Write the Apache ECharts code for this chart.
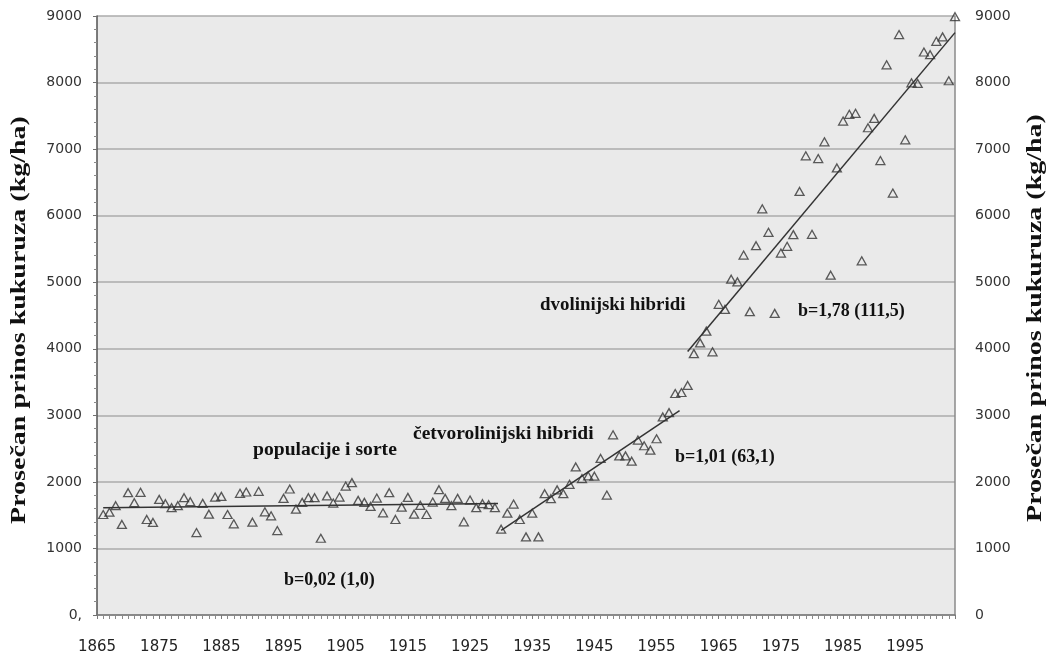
<!DOCTYPE html>
<html>
<head>
<meta charset="utf-8">
<title>Prosečan prinos kukuruza</title>
<script src="https://cdn.jsdelivr.net/npm/echarts@6/dist/echarts.min.js"></script>
<style>
  html, body { margin: 0; padding: 0; background: #fff; }
  #chart { width: 1049px; height: 662px; }
</style>
</head>
<body>
<div id="chart"></div>
<script>
// prosečan prinos kukuruza (kg/ha) po godinama, 1866 - 2003
const firstYear = 1866
const yields = [
  1510, 1545, 1642, 1360, 1838, 1687, 1843, 1435, 1390, 1737,
  1672, 1612, 1642, 1763, 1702, 1239, 1677, 1515, 1772, 1782,
  1510, 1370, 1828, 1848, 1395, 1858, 1551, 1491, 1269, 1752,
  1893, 1591, 1692, 1763, 1763, 1153, 1790, 1682, 1772, 1938,
  1989, 1722, 1692, 1631, 1757, 1536, 1838, 1435, 1621, 1767,
  1515, 1647, 1510, 1697, 1883, 1752, 1642, 1752, 1400, 1727,
  1612, 1672, 1657, 1612, 1289, 1530, 1667, 1435, 1174, 1530,
  1174, 1823, 1748, 1880, 1823, 1964, 2225, 2050, 2089, 2085,
  2352, 1802, 2708, 2391, 2391, 2311, 2628, 2543, 2477, 2648,
  2976, 3041, 3328, 3343, 3449, 3927, 4089, 4265, 3955, 4668,
  4592, 5045, 5005, 5408, 4557, 5549, 6103, 5750, 4532, 5438,
  5539, 5715, 6364, 6899, 5720, 6858, 7110, 5106, 6717, 7422,
  7523, 7538, 5322, 7321, 7462, 6828, 8267, 6340, 8721, 7140,
  7996, 7986, 8459, 8419, 8620, 8686, 8027, 8990
]
const years = yields.map((v, i) => firstYear + i)

// linije trenda [godina, prinos]
const trendPopulacije = [[1866, 1612], [1929.5, 1675]]
const trendCetvoro = [[1930, 1270], [1958.7, 3070]]
const trendDvo = [[1960, 3960], [2003, 8750]]

// natpisi
const axisTitle = 'Prosečan prinos kukuruza (kg/ha)'
const notes = [
  'populacije i sorte', 'b=0,02 (1,0)',
  'četvorolinijski hibridi', 'b=1,01 (63,1)',
  'dvolinijski hibridi', 'b=1,78 (111,5)'
]

const serif = '"Liberation Serif", "Times New Roman", serif'
const sans = '"DejaVu Sans", Verdana, sans-serif'

const noteText = (text, x, y, stretch) => ({
  type: 'text', x: x, y: y, z: 10, scaleX: stretch || 1,
  style: { text: text, fontFamily: serif, fontWeight: 'bold', fontSize: 18,
    fill: '#111', align: 'left', verticalAlign: 'middle' }
})

const titleText = (x, y) => ({
  type: 'text', x: x, y: y, rotation: Math.PI / 2, scaleX: 1.4,
  style: { text: axisTitle, fontFamily: serif, fontWeight: 'bold', fontSize: 20,
    fill: '#111', align: 'center', verticalAlign: 'middle' }
})

// bez separatora hiljada
const plain = v => String(v)

const yAxisBase = {
  type: 'value', min: 0, max: 9000, interval: 1000
}

const myChart = echarts.init(document.getElementById('chart'))
myChart.setOption({
  animation: false,
  backgroundColor: '#ffffff',
  grid: {
    left: 97, right: 94, top: 16, bottom: 47,
    show: true, backgroundColor: '#eaeaea', borderWidth: 0
  },
  xAxis: {
    type: 'value', min: 1865, max: 2003, interval: 10,
    axisLine: { show: true, lineStyle: { color: '#7a7a7a', width: 1.5 } },
    axisTick: { show: true, length: 4, lineStyle: { color: '#7a7a7a' } },
    minorTick: { show: true, splitNumber: 10, length: 4, lineStyle: { color: '#8a8a8a' } },
    splitLine: { show: false },
    axisLabel: {
      margin: 25, fontFamily: sans, fontSize: 15, color: '#222',
      showMaxLabel: false, formatter: plain
    }
  },
  yAxis: [
    {
      ...yAxisBase,
      position: 'left',
      axisLine: { show: true, lineStyle: { color: '#505050', width: 1.5 } },
      axisTick: { show: true, length: 4, lineStyle: { color: '#707070' } },
      minorTick: { show: true, splitNumber: 5, length: 3, lineStyle: { color: '#8a8a8a' } },
      splitLine: { show: true, lineStyle: { color: '#ababab', width: 1.5 } },
      axisLabel: {
        margin: 15, fontFamily: sans, fontSize: 14, color: '#333',
        formatter: v => (v === 0 ? '0,' : String(v))
      }
    },
    {
      ...yAxisBase,
      position: 'right',
      axisLine: { show: true, lineStyle: { color: '#8a8a8a', width: 1.5 } },
      axisTick: { show: false },
      splitLine: { show: false },
      axisLabel: { margin: 20, fontFamily: sans, fontSize: 14, color: '#333', formatter: plain }
    }
  ],
  series: [
    {
      type: 'scatter',
      data: years.map((y, i) => [y, yields[i]]),
      symbol: 'triangle',
      symbolSize: [9, 8],
      itemStyle: { color: 'rgba(0,0,0,0)', borderColor: '#333', borderWidth: 1.3 },
      z: 3
    },
    {
      type: 'line', data: trendPopulacije, symbol: 'none',
      lineStyle: { color: '#333', width: 1.5 }, z: 4
    },
    {
      type: 'line', data: trendCetvoro, symbol: 'none',
      lineStyle: { color: '#333', width: 1.5 }, z: 4
    },
    {
      type: 'line', data: trendDvo, symbol: 'none',
      lineStyle: { color: '#333', width: 1.5 }, z: 4
    }
  ],
  graphic: [
    titleText(20, 320),
    titleText(1036, 318),
    noteText(notes[0], 253, 450, 1.09),
    noteText(notes[1], 284, 580),
    noteText(notes[2], 413, 434, 1.08),
    noteText(notes[3], 675, 457),
    noteText(notes[4], 540, 305, 1.05),
    noteText(notes[5], 798, 311)
  ]
})
</script>
</body>
</html>
